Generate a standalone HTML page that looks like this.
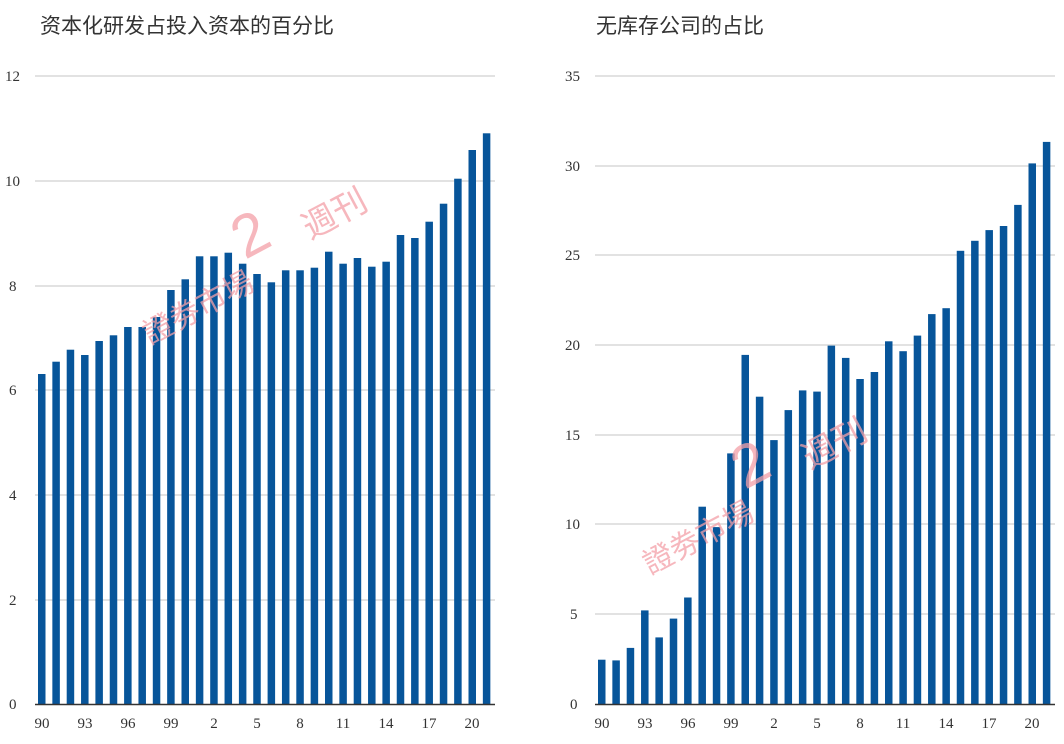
<!DOCTYPE html>
<html><head><meta charset="utf-8"><style>
html,body{margin:0;padding:0;background:#fff;}
svg{display:block;}
text{font-family:"Liberation Serif","Noto Serif CJK SC",serif;fill:#333;}
.t{font-family:"Liberation Sans","Noto Sans CJK SC",sans-serif;font-size:21px;fill:#333;}
.g{stroke:#e2e2e2;stroke-width:2;}
.b rect{fill:#07559a;}
.wm text{font-family:"Liberation Sans","Noto Sans CJK SC",sans-serif;fill:#f4a0a8;opacity:0.75;}
</style></head><body>
<svg width="1064" height="744" viewBox="0 0 1064 744">
<text class="t" x="40" y="33">资本化研发占投入资本的百分比</text>
<text class="t" x="596" y="33">无库存公司的占比</text>
<g class="g">
<line x1="35" x2="495" y1="76" y2="76"/><line x1="35" x2="495" y1="181" y2="181"/><line x1="35" x2="495" y1="286" y2="286"/><line x1="35" x2="495" y1="390" y2="390"/><line x1="35" x2="495" y1="495" y2="495"/><line x1="35" x2="495" y1="600" y2="600"/>
<line x1="595" x2="1055" y1="76" y2="76"/><line x1="595" x2="1055" y1="166" y2="166"/><line x1="595" x2="1055" y1="255" y2="255"/><line x1="595" x2="1055" y1="345" y2="345"/><line x1="595" x2="1055" y1="435" y2="435"/><line x1="595" x2="1055" y1="524" y2="524"/><line x1="595" x2="1055" y1="614" y2="614"/>
</g>
<g font-size="15">
<text x="5" y="81">12</text><text x="5" y="186">10</text><text x="9" y="291">8</text><text x="9" y="395">6</text><text x="9" y="500">4</text><text x="9" y="605">2</text><text x="9" y="709">0</text>
<text x="565" y="81">35</text><text x="565" y="171">30</text><text x="565" y="260">25</text><text x="565" y="350">20</text><text x="565" y="440">15</text><text x="565" y="529">10</text><text x="570" y="619">5</text><text x="570" y="709">0</text>
</g>
<g class="b" transform="translate(38,0)">
<rect x="0" y="374" width="7.5" height="330"/><rect x="14.35" y="361.7" width="7.5" height="342.3"/><rect x="28.7" y="349.7" width="7.5" height="354.3"/><rect x="43.05" y="355" width="7.5" height="349"/><rect x="57.4" y="341" width="7.5" height="363"/><rect x="71.75" y="335.3" width="7.5" height="368.7"/><rect x="86.1" y="327" width="7.5" height="377"/><rect x="100.45" y="327" width="7.5" height="377"/><rect x="114.8" y="317" width="7.5" height="387"/><rect x="129.15" y="290" width="7.5" height="414"/><rect x="143.5" y="279.3" width="7.5" height="424.7"/><rect x="157.85" y="256.3" width="7.5" height="447.7"/><rect x="172.2" y="256.3" width="7.5" height="447.7"/><rect x="186.55" y="252.7" width="7.5" height="451.3"/><rect x="200.9" y="263.7" width="7.5" height="440.3"/><rect x="215.25" y="274" width="7.5" height="430"/><rect x="229.6" y="282.3" width="7.5" height="421.7"/><rect x="243.95" y="270.3" width="7.5" height="433.7"/><rect x="258.3" y="270.3" width="7.5" height="433.7"/><rect x="272.65" y="267.7" width="7.5" height="436.3"/><rect x="287" y="251.7" width="7.5" height="452.3"/><rect x="301.35" y="263.7" width="7.5" height="440.3"/><rect x="315.7" y="258" width="7.5" height="446"/><rect x="330.05" y="266.7" width="7.5" height="437.3"/><rect x="344.4" y="261.7" width="7.5" height="442.3"/><rect x="358.75" y="235" width="7.5" height="469"/><rect x="373.1" y="238" width="7.5" height="466"/><rect x="387.45" y="221.7" width="7.5" height="482.3"/><rect x="401.8" y="203.7" width="7.5" height="500.3"/><rect x="416.15" y="178.7" width="7.5" height="525.3"/><rect x="430.5" y="150" width="7.5" height="554"/><rect x="444.85" y="133.3" width="7.5" height="570.7"/>
</g>
<g class="b" transform="translate(598,0)">
<rect x="0" y="659.7" width="7.5" height="44.3"/><rect x="14.35" y="660.4" width="7.5" height="43.6"/><rect x="28.7" y="647.9" width="7.5" height="56.1"/><rect x="43.05" y="610.4" width="7.5" height="93.6"/><rect x="57.4" y="637.4" width="7.5" height="66.6"/><rect x="71.75" y="618.6" width="7.5" height="85.4"/><rect x="86.1" y="597.5" width="7.5" height="106.5"/><rect x="100.45" y="506.7" width="7.5" height="197.3"/><rect x="114.8" y="527.1" width="7.5" height="176.9"/><rect x="129.15" y="453.4" width="7.5" height="250.6"/><rect x="143.5" y="354.9" width="7.5" height="349.1"/><rect x="157.85" y="396.7" width="7.5" height="307.3"/><rect x="172.2" y="440.1" width="7.5" height="263.9"/><rect x="186.55" y="410.1" width="7.5" height="293.9"/><rect x="200.9" y="390.4" width="7.5" height="313.6"/><rect x="215.25" y="391.6" width="7.5" height="312.4"/><rect x="229.6" y="345.6" width="7.5" height="358.4"/><rect x="243.95" y="357.9" width="7.5" height="346.1"/><rect x="258.3" y="379" width="7.5" height="325"/><rect x="272.65" y="372" width="7.5" height="332"/><rect x="287" y="341.3" width="7.5" height="362.7"/><rect x="301.35" y="351.2" width="7.5" height="352.8"/><rect x="315.7" y="335.6" width="7.5" height="368.4"/><rect x="330.05" y="314.1" width="7.5" height="389.9"/><rect x="344.4" y="308.2" width="7.5" height="395.8"/><rect x="358.75" y="250.8" width="7.5" height="453.2"/><rect x="373.1" y="240.8" width="7.5" height="463.2"/><rect x="387.45" y="230.1" width="7.5" height="473.9"/><rect x="401.8" y="226" width="7.5" height="478"/><rect x="416.15" y="204.9" width="7.5" height="499.1"/><rect x="430.5" y="163.4" width="7.5" height="540.6"/><rect x="444.85" y="141.9" width="7.5" height="562.1"/>
</g>
<line x1="35" x2="495" y1="704.5" y2="704.5" stroke="#333" stroke-width="1.5"/>
<line x1="595" x2="1055" y1="704.5" y2="704.5" stroke="#333" stroke-width="1.5"/>
<g font-size="15" text-anchor="middle">
<text x="42" y="728">90</text><text x="85" y="728">93</text><text x="128" y="728">96</text><text x="171" y="728">99</text><text x="214" y="728">2</text><text x="257" y="728">5</text><text x="300" y="728">8</text><text x="343" y="728">11</text><text x="386" y="728">14</text><text x="429" y="728">17</text><text x="472" y="728">20</text>
<text x="602" y="728">90</text><text x="645" y="728">93</text><text x="688" y="728">96</text><text x="731" y="728">99</text><text x="774" y="728">2</text><text x="817" y="728">5</text><text x="860" y="728">8</text><text x="903" y="728">11</text><text x="946" y="728">14</text><text x="989" y="728">17</text><text x="1032" y="728">20</text>
</g>
<g class="wm">
<text transform="translate(150,345) rotate(-28)" font-size="30">證劵市場</text>
<text transform="translate(245,260) rotate(-28)" font-size="60">2</text>
<text transform="translate(310,240) rotate(-28)" font-size="34">週刊</text>
<text transform="translate(650,575) rotate(-28)" font-size="30">證劵市場</text>
<text transform="translate(745,490) rotate(-28)" font-size="60">2</text>
<text transform="translate(810,470) rotate(-28)" font-size="34">週刊</text>
</g>
</svg>
</body></html>
